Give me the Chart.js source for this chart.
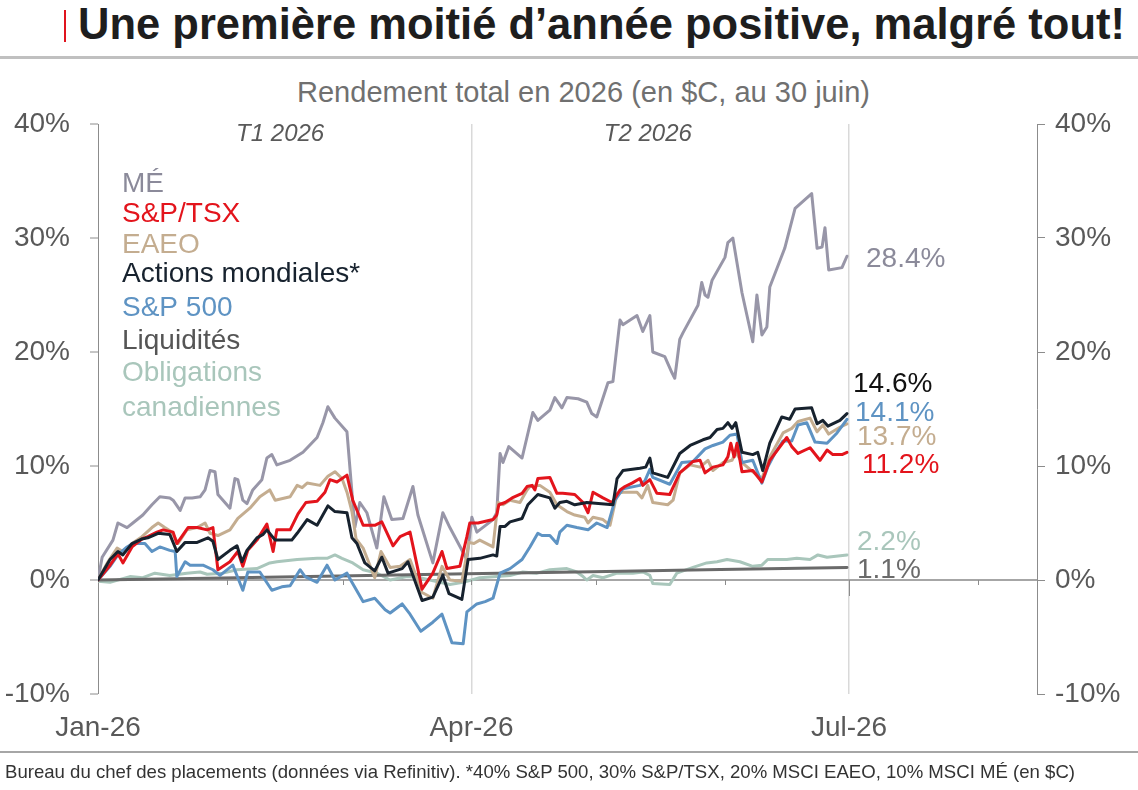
<!DOCTYPE html>
<html><head><meta charset="utf-8">
<script src="https://cdn.jsdelivr.net/npm/chart.js@4.4.1/dist/chart.umd.min.js"></script>
<style>
html,body{margin:0;padding:0;background:#fff;}
#wrap{position:relative;width:1138px;height:790px;overflow:hidden;font-family:"Liberation Sans",Arial,sans-serif;}
#c{position:absolute;left:0;top:0;}
.t{position:absolute;white-space:nowrap;transform-origin:0 0;}
</style></head><body>
<div id="wrap">
<div style="position:absolute;left:64px;top:10px;width:2px;height:32px;background:#e0141e"></div>
<div class="t fit" data-w="1047" style="left:78px;top:3px;font-size:43.5px;line-height:43.5px;font-weight:bold;color:#1e1e1e">Une première moitié d’année positive, malgré tout!</div>
<div style="position:absolute;left:0;top:56px;width:1138px;height:3px;background:#c0c0c0"></div>
<div class="t fit" data-w="573" style="left:297px;top:77.5px;font-size:29px;line-height:29px;color:#707070">Rendement total en 2026 (en $C, au 30 juin)</div>
<canvas id="c" width="1138" height="790" style="width:1138px;height:790px"></canvas>
<div style="position:absolute;left:0;top:751px;width:1138px;height:2px;background:#a6a6a6"></div>
<div class="t fit" data-w="1070" style="left:5px;top:762px;font-size:19px;line-height:19px;color:#333">Bureau du chef des placements (données via Refinitiv). *40% S&amp;P 500, 30% S&amp;P/TSX, 20% MSCI EAEO, 10% MSCI MÉ (en $C)</div>
</div>
<script>
// ---------- DATA (x = days since Jan 1 2026, y = total return %) ----------
const tickDays = [0, 90, 181];
const tickLabels = ['Jan-26', 'Apr-26', 'Jul-26'];
const monthTickDays = [31, 59, 90, 120, 151, 181, 212];
const yTicks = [-10, 0, 10, 20, 30, 40];
const quarterLabels = ['T1 2026', 'T2 2026'];
const quarterCenters = [43.9, 132.5];
const legendLines = ['MÉ', 'S&P/TSX', 'EAEO', 'Actions mondiales*', 'S&P 500', 'Liquidités', 'Obligations', 'canadiennes'];

const meDays = [0, 1, 3.6, 4.8, 7, 8.4, 10.8, 13, 14.9, 17.3,
  18.1, 19.8, 21, 22.7, 24.6, 25.8, 27, 28.2, 28.9, 31.8,
  33, 33.7, 34.9, 35.9, 37.3, 39.5, 40.7, 41.9, 43.1, 46.3,
  49.4, 52.8, 54.2, 55.4, 57.1, 60, 61.9, 63.1, 64.8, 67.2,
  68.9, 70.8, 73.5, 75.9, 77.1, 80.7, 83.1, 84.8, 88.9, 90.1,
  91.3, 95.2, 96.1, 96.9, 97.6, 99, 102.2, 104.8, 106, 108.9,
  110.1, 111.8, 113, 115.7, 117.8, 119, 120.2, 122.9, 124.1, 125.8,
  126.5, 129.9, 131.3, 133, 133.7, 136.6, 138.3, 139, 140.2, 141,
  144.6, 145.5, 146.3, 147, 148, 151.1, 151.8, 153, 155.2, 157.8,
  158.8, 160, 161.2, 161.9, 165.5, 168, 172, 173.3, 174.5, 175.2,
  176.1, 179.3, 180.5];
const meVals = [0, 2.0, 3.5, 5.0, 4.6, 5.0, 5.7, 6.6, 7.3, 7.2,
  7.0, 6.1, 7.2, 7.2, 7.3, 7.9, 9.6, 9.5, 7.5, 6.3,
  8.9, 8.8, 7.0, 6.7, 7.9, 8.8, 10.7, 11.0, 10.1, 10.5,
  11.2, 12.5, 13.8, 15.2, 14.2, 13.0, 4.6, 6.8, 5.9, 2.8,
  7.3, 5.3, 5.4, 8.2, 5.7, 1.5, 5.9, 4.6, 1.8, 5.5,
  4.2, 5.3, 5.9, 11.1, 10.3, 11.7, 10.7, 14.7, 14.0, 14.9,
  16.0, 15.1, 16.0, 15.9, 15.6, 14.6, 14.3, 17.3, 17.4, 22.8,
  22.4, 23.2, 21.8, 23.2, 20.0, 19.6, 18.2, 17.7, 21.1, 21.7,
  24.1, 26.1, 25.0, 24.8, 26.3, 28.3, 29.6, 30.0, 25.2, 20.9,
  25.0, 21.5, 22.2, 25.7, 29.1, 32.6, 33.9, 29.1, 29.2, 30.9,
  27.2, 27.4, 28.4];

const tsxDays = [0, 2.9, 4.8, 6.0, 8.2, 10.6, 12.0, 14.2, 15.7, 18.1,
  19.0, 21.7, 23.9, 26.3, 27.7, 28.9, 31.8, 33.7, 34.9, 36.1,
  38.3, 40.7, 42.2, 43.1, 46.3, 48.2, 50.1, 52.8, 54.7, 55.9,
  57.6, 60.0, 61.4, 63.9, 66.7, 68.4, 71.1, 72.8, 75.2, 78.1,
  80.7, 82.9, 84.1, 87.2, 88.9, 89.6, 91.6, 95.2, 96.1, 96.6,
  98.1, 99.8, 102.2, 103.4, 104.6, 105.3, 106.0, 108.9, 110.6, 112.0,
  114.9, 116.9, 118.1, 119.3, 121.7, 123.9, 125.8, 127.0, 128.7, 130.6,
  131.3, 133.0, 134.7, 137.8, 140.2, 143.4, 145.1, 146.3, 148.2, 150.6,
  151.8, 152.5, 153.3, 154.0, 155.2, 157.8, 160.0, 161.9, 166.0, 167.2,
  168.7, 171.6, 174.0, 175.7, 177.1, 179.3, 180.5];
const tsxVals = [0, 1.3, 2.3, 1.5, 2.9, 3.6, 3.8, 4.2, 4.4, 4.2,
  3.2, 4.6, 4.6, 4.4, 4.6, 0.9, 1.6, 2.5, 1.2, 2.6,
  3.5, 4.9, 2.5, 4.4, 4.4, 5.8, 6.8, 6.9, 7.7, 8.8,
  8.6, 9.2, 7.0, 4.8, 4.8, 5.1, 3.0, 3.8, 4.2, -0.8,
  0.6, 2.5, 1.0, 1.2, 3.8, 5.0, 5.0, 5.3, 5.7, 6.6,
  6.8, 7.2, 7.6, 8.2, 8.3, 7.9, 8.9, 9.0, 7.6, 7.6,
  7.5, 6.8, 5.9, 7.7, 7.2, 6.8, 7.9, 8.2, 8.5, 8.9,
  8.3, 8.8, 7.6, 7.5, 9.4, 10.4, 10.5, 9.4, 9.9, 10.1,
  10.8, 12.0, 10.8, 12.0, 9.5, 9.6, 8.6, 10.5, 12.5, 11.7,
  11.1, 11.6, 10.5, 11.4, 11.0, 11.0, 11.2];

const eafeDays = [0, 2.4, 4.6, 6.0, 8.2, 10.6, 13.0, 14.5, 16.1, 17.8,
  19.3, 21.4, 23.9, 25.8, 27.0, 28.9, 31.8, 33.7, 36.6, 39.0,
  41.4, 42.7, 46.3, 48.0, 49.2, 50.4, 53.5, 55.4, 57.1, 58.8,
  60.0, 61.2, 62.2, 63.9, 66.7, 68.2, 70.4, 72.8, 75.2, 78.1,
  80.7, 82.9, 84.8, 87.7, 89.4, 90.6, 92.0, 95.2, 96.4, 97.6,
  99.3, 101.7, 103.4, 104.1, 106.5, 108.9, 110.6, 113.0, 114.9, 117.3,
  118.1, 119.3, 121.7, 123.4, 125.1, 126.5, 129.9, 131.1, 132.5, 133.7,
  137.3, 138.6, 140.2, 142.7, 145.1, 147.0, 148.2, 150.6, 152.8, 153.7,
  155.2, 157.8, 160.0, 161.9, 165.1, 167.2, 168.7, 171.6, 173.3, 174.7,
  176.1, 178.8, 180.5];
const eafeVals = [0, 1.6, 2.8, 2.5, 3.2, 3.8, 4.6, 5.0, 4.6, 4.2,
  3.2, 4.4, 4.6, 5.0, 4.1, 3.9, 4.4, 5.4, 6.3, 7.3,
  7.9, 7.0, 7.3, 8.3, 8.1, 8.5, 8.3, 9.1, 9.5, 8.9,
  7.7, 6.0, 3.6, 2.8, 0.2, 2.5, 1.1, 1.2, 1.8, -1.1,
  -1.6, 1.2, 0, -0.1, 3.3, 3.2, 3.5, 2.9, 6.8, 6.6,
  7.0, 6.8, 7.9, 8.2, 8.3, 7.7, 6.6, 6.0, 5.7, 5.5,
  5.0, 5.5, 5.3, 4.8, 7.6, 7.7, 7.7, 7.2, 8.3, 6.8,
  6.6, 7.0, 9.4, 10.1, 9.9, 10.5, 9.6, 10.3, 10.5, 11.2,
  10.3, 9.5, 8.9, 10.8, 12.9, 13.3, 13.9, 14.2, 13.0, 13.6,
  12.8, 13.4, 13.7];

const worldDays = [0, 2.9, 4.8, 6.0, 8.2, 10.6, 12.0, 14.5, 17.3, 19.0,
  21.0, 23.9, 26.5, 27.7, 28.9, 31.8, 33.5, 34.7, 35.9, 38.3,
  39.8, 40.7, 42.7, 46.7, 48.0, 50.4, 52.8, 55.4, 57.1, 60.0,
  61.2, 62.4, 64.3, 66.7, 68.4, 69.9, 73.3, 74.7, 78.1, 80.7,
  83.1, 84.6, 87.7, 89.2, 92.0, 95.2, 96.1, 96.9, 98.1, 99.3,
  102.2, 103.6, 106.0, 108.9, 110.1, 111.3, 113.0, 114.9, 117.8, 124.1,
  125.1, 126.5, 130.6, 132.0, 133.0, 133.7, 137.3, 140.2, 142.7, 145.8,
  147.5, 149.2, 150.6, 151.8, 152.8, 153.7, 155.2, 157.8, 159.0, 160.2,
  161.9, 164.8, 166.7, 168.0, 172.0, 173.3, 174.7, 175.9, 178.8, 180.5];
const worldVals = [0, 1.8, 2.5, 2.2, 3.2, 3.6, 3.7, 4.1, 4.0, 2.5,
  3.3, 3.3, 3.7, 3.4, 1.8, 2.6, 3.0, 1.6, 2.6, 3.7,
  4.0, 4.4, 3.5, 3.5, 4.1, 5.3, 4.8, 6.5, 6.0, 5.9,
  3.7, 3.2, 1.5, 0.8, 2.0, 0.6, 1.0, 1.6, -1.8, -1.5,
  0.4, -1.2, -1.7, 1.8, 1.9, 2.2, 2.1, 4.7, 4.7, 5.1,
  5.4, 6.6, 7.5, 7.2, 6.3, 6.8, 6.9, 6.6, 6.8, 6.6,
  8.9, 9.6, 9.8, 9.9, 10.7, 9.4, 9.0, 11.1, 11.8, 12.3,
  12.5, 13.2, 13.3, 13.8, 13.3, 13.8, 11.2, 11.0, 11.2, 9.6,
  12.0, 14.3, 14.1, 15.0, 15.1, 13.7, 14.0, 13.5, 14.0, 14.6];

const spxDays = [0, 2.9, 4.8, 7.0, 8.4, 11.3, 13.0, 14.9, 17.3, 18.6,
  19.0, 21.0, 22.2, 25.3, 27.7, 29.4, 32.5, 34.9, 36.1, 39.0,
  41.9, 44.3, 46.3, 48.7, 49.9, 52.8, 55.2, 57.1, 60.0, 61.2,
  63.9, 66.7, 69.2, 70.4, 73.3, 75.2, 77.8, 80.7, 82.9, 85.3,
  88.0, 88.9, 91.3, 93.3, 95.2, 96.9, 99.3, 102.2, 104.1, 106.0,
  107.0, 108.9, 110.6, 111.3, 113.0, 115.4, 118.1, 120.2, 122.7, 124.6,
  126.5, 130.6, 131.8, 133.0, 133.7, 137.8, 140.7, 143.4, 146.3, 148.2,
  150.6, 152.3, 154.0, 155.2, 157.8, 160.0, 161.4, 163.1, 165.1, 167.2,
  168.7, 170.8, 172.8, 175.7, 178.1, 180.5];
const spxVals = [0, 1.2, 2.2, 2.9, 3.2, 3.2, 2.5, 2.9, 2.6, 2.5,
  0.3, 1.6, 1.3, 1.3, 0.9, 0.4, 1.3, -0.9, 0.7, 0.7,
  -0.9, -0.6, -0.5, 0.9, 0.3, -0.2, 1.3, 0, 0.6, -0.2,
  -1.9, -1.6, -2.6, -2.9, -2.1, -3.0, -4.5, -3.7, -3.0, -5.5,
  -5.6, -2.8, -2.1, -1.9, -1.6, 0.6, 1.0, 1.8, 2.9, 4.1,
  3.9, 3.9, 3.2, 4.2, 4.8, 4.6, 4.4, 5.0, 4.6, 7.0,
  8.0, 8.3, 8.7, 9.7, 9.0, 8.4, 10.3, 10.4, 11.5, 11.8,
  12.1, 12.7, 12.8, 10.3, 10.5, 8.5, 9.9, 11.1, 12.2, 12.2,
  13.6, 13.8, 12.1, 12.0, 12.9, 14.1];

const cashDays = [0, 30, 58, 89, 119, 150, 180.5];
const cashVals = [0, 0.18, 0.35, 0.54, 0.73, 0.92, 1.1];

const bondDays = [0, 2.9, 7.7, 10.8, 13.7, 17.3, 21.4, 24.6, 26.3, 30.1,
  33.5, 38.3, 41.4, 43.1, 48.0, 52.8, 55.2, 57.1, 58.8, 61.4,
  63.9, 67.2, 70.4, 74.5, 77.6, 82.4, 84.8, 88.0, 92.0, 96.1,
  99.3, 102.4, 105.8, 108.9, 113.0, 115.4, 116.9, 117.8, 119.3, 121.7,
  125.1, 128.9, 131.3, 133.0, 133.7, 137.8, 139.5, 143.4, 146.7, 149.2,
  151.6, 154.7, 157.8, 160.0, 161.4, 166.0, 168.4, 171.6, 173.5, 175.7,
  180.5];
const bondVals = [-0.1, -0.2, 0.3, 0.2, 0.6, 0.4, 0.6, 0.7, 0.5, 0.6,
  0.9, 1.0, 1.5, 1.6, 1.8, 1.9, 1.9, 2.2, 1.9, 1.5,
  0.9, 0.6, 0, 0.3, 0.2, -0.2, -0.4, -0.2, 0.2, 0.3,
  0.4, 0.7, 0.6, 0.9, 1.0, 0.7, 0.3, 0, 0.4, 0.2,
  0.6, 0.6, 0.7, 0.4, -0.3, -0.4, 0.6, 1.1, 1.5, 1.6,
  1.8, 1.6, 1.2, 1.3, 1.8, 1.8, 1.9, 1.8, 2.2, 2.0,
  2.2];

// ---------- STYLE ----------
const C = {
  me: '#9896a8', meTxt: '#8b8a9a',
  tsx: '#e3141c', eafe: '#c4ad90', world: '#17222e',
  spx: '#5e93c3', cash: '#6a6a6a', cashTxt: '#555555', bond: '#a9c6bb',
  axis: '#8c8c8c', tick: '#595959'
};
const FONT = '"Liberation Sans", Arial, sans-serif';
Chart.defaults.font.family = FONT;

function pts(d, v) { return d.map((x, i) => ({ x: x, y: v[i] })); }
function ds(label, d, v, color) {
  return { label, data: pts(d, v), borderColor: color, borderWidth: 3, pointRadius: 0,
           tension: 0, fill: false, borderJoinStyle: 'round', borderCapStyle: 'round' };
}
const last = a => a[a.length - 1];

const annot = {
  id: 'annot',
  afterDatasetsDraw(chart) {
    const ctx = chart.ctx, xs = chart.scales.x, ys = chart.scales.y;
    ctx.save();
    // month tick marks on zero line
    const y0 = ys.getPixelForValue(0);
    ctx.strokeStyle = C.axis; ctx.lineWidth = 1;
    monthTickDays.forEach(d => {
      const px = Math.round(xs.getPixelForValue(d)) + 0.5;
      ctx.beginPath(); ctx.moveTo(px, y0); ctx.lineTo(px, y0 + (d === 181 ? 16 : 5)); ctx.stroke();
    });
    // quarter labels
    ctx.font = 'italic 24px ' + FONT; ctx.fillStyle = C.tick; ctx.textAlign = 'center'; ctx.textBaseline = 'alphabetic';
    quarterLabels.forEach((q, i) => ctx.fillText(q, xs.getPixelForValue(quarterCenters[i]), 141));
    // legend text
    ctx.font = '28px ' + FONT; ctx.textAlign = 'left';
    const lc = [C.meTxt, C.tsx, C.eafe, C.world, C.spx, C.cashTxt, C.bond, C.bond];
    const lb = [192, 222, 253, 282, 316, 349, 381, 416];
    legendLines.forEach((t, i) => { ctx.fillStyle = lc[i]; ctx.fillText(t, 122, lb[i]); });
    // end labels
    const ends = [
      [last(meVals), C.meTxt, 866, 267],
      [last(worldVals), '#111111', 853, 392],
      [last(spxVals), C.spx, 855, 421],
      [last(eafeVals), C.eafe, 857, 445],
      [last(tsxVals), C.tsx, 862, 473],
      [last(bondVals), C.bond, 857, 550],
      [last(cashVals), C.cash, 857, 578]
    ];
    ends.forEach(e => { ctx.fillStyle = e[1]; ctx.fillText(e[0].toFixed(1) + '%', e[2], e[3]); });
    ctx.restore();
  }
};

const yAxisBase = {
  type: 'linear', min: -10, max: 40,
  afterBuildTicks: s => { s.ticks = yTicks.map(v => ({ value: v })); },
  border: { display: true, color: C.axis, width: 1 }
};

new Chart(document.getElementById('c'), {
  type: 'line',
  data: {
    datasets: [
      ds('Actions mondiales*', worldDays, worldVals, C.world),
      ds('S&P/TSX', tsxDays, tsxVals, C.tsx),
      ds('S&P 500', spxDays, spxVals, C.spx),
      ds('EAEO', eafeDays, eafeVals, C.eafe),
      ds('Liquidités', cashDays, cashVals, C.cash),
      ds('Obligations canadiennes', bondDays, bondVals, C.bond),
      ds('MÉ', meDays, meVals, C.me)
    ]
  },
  options: {
    responsive: false, animation: false,
    devicePixelRatio: window.devicePixelRatio || 1,
    layout: { padding: { top: 124, left: 0, right: 0, bottom: 0 } },
    plugins: { legend: { display: false }, tooltip: { enabled: false }, title: { display: false } },
    scales: {
      x: {
        type: 'linear', min: 0, max: 226.3, position: 'bottom',
        afterBuildTicks: s => { s.ticks = tickDays.map(v => ({ value: v })); },
        afterFit: s => { s.height = 96; },
        ticks: { callback: v => tickLabels[tickDays.indexOf(v)], color: C.tick, font: { size: 28 },
                 padding: 17, maxRotation: 0, autoSkip: false },
        grid: { drawOnChartArea: true, drawTicks: false,
                color: c => (c.tick && c.tick.value === 0) ? 'rgba(0,0,0,0)' : '#d9d9d9', lineWidth: 1.5 },
        border: { display: false }
      },
      y: Object.assign({}, yAxisBase, {
        position: 'left',
        afterFit: s => { s.width = 98; },
        ticks: { callback: v => v + '%', color: C.tick, font: { size: 28 }, padding: 20 },
        grid: { drawOnChartArea: true, drawTicks: true, tickLength: 8, tickColor: C.axis, tickWidth: 1,
                color: c => (c.tick && c.tick.value === 0) ? '#a6a6a6' : 'rgba(0,0,0,0)',
                lineWidth: c => (c.tick && c.tick.value === 0) ? 2 : 0 }
      }),
      y2: Object.assign({}, yAxisBase, {
        position: 'right',
        afterFit: s => { s.width = 101; },
        ticks: { callback: v => v + '%', color: C.tick, font: { size: 28 }, padding: 10 },
        grid: { drawOnChartArea: false, drawTicks: true, tickLength: 8, tickColor: C.axis, tickWidth: 1 }
      })
    }
  },
  plugins: [annot]
});

function fit() {
  document.querySelectorAll('.fit').forEach(el => {
    el.style.transform = 'none';
    const w = el.getBoundingClientRect().width;
    const target = parseFloat(el.dataset.w);
    if (w > 0) el.style.transform = 'scaleX(' + (target / w) + ')';
  });
}
fit();
if (document.fonts && document.fonts.ready) document.fonts.ready.then(fit);
</script>
</body></html>
